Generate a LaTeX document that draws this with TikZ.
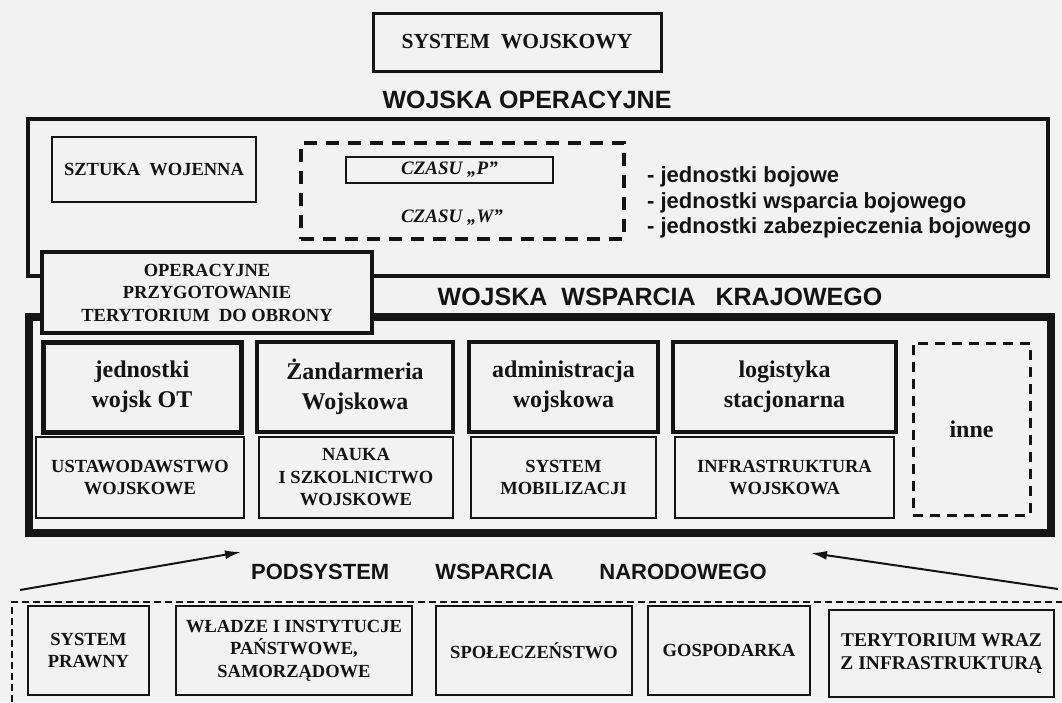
\documentclass[tikz,border=0pt]{standalone}
\usepackage{fontspec}
\setmainfont{Liberation Serif}
\newfontfamily\sansb{Liberation Sans}
\usetikzlibrary{arrows.meta}
\definecolor{bgc}{gray}{0.95}
\definecolor{ink}{gray}{0.08}
\newcommand\fSmB{\fontsize{18.5}{22.5}\selectfont\bfseries}
\newcommand\fBigB{\fontsize{24}{30}\selectfont\bfseries}
\newcommand\fTitle{\sansb\fontsize{25}{30}\selectfont\bfseries}
\newcommand\fSub{\sansb\fontsize{22}{25.5}\selectfont\bfseries}
\newcommand\fItB{\fontsize{19}{22}\selectfont\bfseries\itshape}
\tikzset{
  thinbox/.style={draw=ink, line width=1.5pt, inner sep=0pt, align=center, font=\fSmB, text=ink},
  midbox/.style={draw=ink, line width=3.5pt, inner sep=0pt, align=center, font=\fSmB, text=ink},
  heavybox/.style={draw=ink, line width=4.5pt, inner sep=0pt, align=center, font=\fBigB, text=ink},
  frame/.style={draw=ink, inner sep=0pt},
  title/.style={inner sep=0pt, font=\fTitle, text=ink},
  dashbox/.style={draw=ink, line width=3.5pt, dash pattern=on 13pt off 9pt, inner sep=0pt},
  dashsmall/.style={draw=ink, line width=3pt, dash pattern=on 10pt off 7pt, inner sep=0pt, font=\fBigB, text=ink},
  thindash/.style={draw=ink, line width=1.3pt, dash pattern=on 7pt off 4pt},
  arr/.style={draw=ink, line width=2pt, -{Latex[length=16pt,width=9pt]}},
}
\begin{document}
\begin{tikzpicture}[x=1pt,y=-1pt]
\useasboundingbox[fill=bgc] (0,0) rectangle (1062,702);

% top
\node[midbox, line width=3pt, font=\fontsize{21.5}{25}\selectfont\bfseries, minimum width=288, minimum height=58] (sw) at (517,42) {SYSTEM~~WOJSKOWY};
\node[title] (wo) at (527,100) {WOJSKA OPERACYJNE};

% wojska operacyjne frame
\node[frame, line width=3.5pt, minimum width=1020, minimum height=157] (opbox) at (538,197.5) {};
\node[thinbox, minimum width=204, minimum height=65] (sztuka) at (154,169.5) {SZTUKA~~WOJENNA};
\node[dashbox, minimum width=323, minimum height=96] (czas) at (462.5,191) {};
\node[thinbox, font=\fItB, minimum width=207, minimum height=26] (czp) at (449.5,170) {CZASU „P”};
\node[inner sep=0pt, font=\fItB, text=ink] (czw) at (452,218) {CZASU „W”};
\node[inner sep=0pt, font=\fSub, text=ink, align=left, anchor=west] (lista) at (647,202.5)
  {- jednostki bojowe\\- jednostki wsparcia bojowego\\- jednostki zabezpieczenia bojowego};

% wojska wsparcia krajowego frame
\node[title] (wwk) at (660,297) {WOJSKA\hspace{14pt}WSPARCIA\hspace{20pt}KRAJOWEGO};
\node[frame, line width=8.5pt, minimum width=1022, minimum height=216] (wwkbox) at (540,425) {};
\node[midbox, fill=bgc, minimum width=330, minimum height=81] (opt) at (207,292.5)
  {OPERACYJNE\\PRZYGOTOWANIE\\TERYTORIUM~~DO OBRONY};

% row 1
\node[heavybox, line width=5pt, minimum width=198, minimum height=90] (ot) at (142,387) {jednostki\\wojsk OT};
\node[heavybox, minimum width=196, minimum height=90] (zw) at (355,387) {Żandarmeria\\Wojskowa};
\node[heavybox, minimum width=189, minimum height=90] (adm) at (563.5,387) {administracja\\wojskowa};
\node[heavybox, minimum width=223, minimum height=90] (log) at (784.5,387) {logistyka\\stacjonarna};
\node[dashsmall, minimum width=117, minimum height=172] (inne) at (971.5,429) {inne};

% row 2
\node[thinbox, minimum width=208, minimum height=81] (ust) at (140,477.5) {USTAWODAWSTWO\\WOJSKOWE};
\node[thinbox, minimum width=194, minimum height=81] (nauka) at (356,477.5) {NAUKA\\I SZKOLNICTWO\\WOJSKOWE};
\node[thinbox, minimum width=185, minimum height=81] (mob) at (563.5,477.5) {SYSTEM\\MOBILIZACJI};
\node[thinbox, minimum width=219, minimum height=81] (infra) at (784.5,477.5) {INFRASTRUKTURA\\WOJSKOWA};

% arrows
\coordinate (la1) at (20,590);
\coordinate (la2) at (241,552);
\coordinate (ra1) at (1058,589);
\coordinate (ra2) at (811,553);
\draw[arr] (la1) -- (la2);
\draw[arr] (ra1) -- (ra2);

% podsystem
\node[inner sep=0pt, font=\sansb\fontsize{22}{25}\selectfont\bfseries, text=ink] (psn) at (509,572)
  {PODSYSTEM\hspace{46pt}WSPARCIA\hspace{46pt}NARODOWEGO};
\coordinate (d1) at (12,702);
\coordinate (d2) at (12,602);
\coordinate (d3) at (1062,602);
\draw[thindash] (d1) -- (d2) -- (d3);

% bottom row
\node[thinbox, minimum width=121, minimum height=89] (prawny) at (88.5,650.5) {SYSTEM\\PRAWNY};
\node[thinbox, minimum width=236, minimum height=89] (wladze) at (294,650.5) {WŁADZE I INSTYTUCJE\\PAŃSTWOWE,\\SAMORZĄDOWE};
\node[thinbox, minimum width=196, minimum height=89] (spol) at (534,650.5) {SPOŁECZEŃSTWO};
\node[thinbox, minimum width=162, minimum height=89] (gosp) at (729,650.5) {GOSPODARKA};
\node[thinbox, font=\fontsize{19.5}{23}\selectfont\bfseries, minimum width=225, minimum height=87] (ter) at (941.5,653.5) {TERYTORIUM WRAZ\\Z INFRASTRUKTURĄ};
\end{tikzpicture}
\end{document}
